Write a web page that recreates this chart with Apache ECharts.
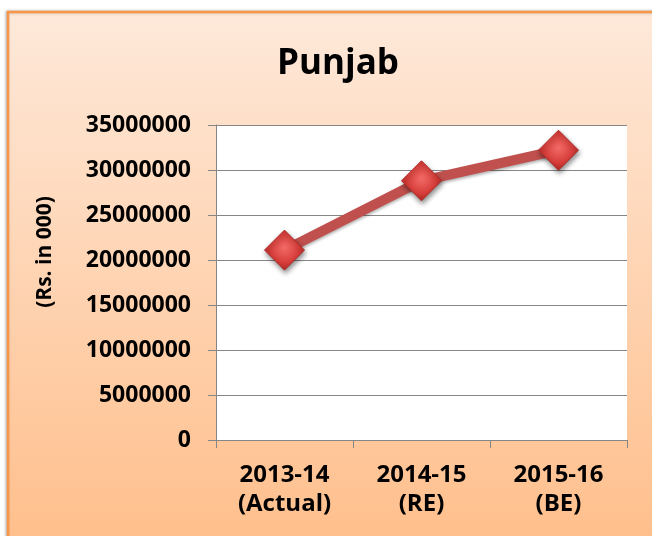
<!DOCTYPE html>
<html>
<head>
<meta charset="utf-8">
<script src="https://cdn.jsdelivr.net/npm/echarts@6/dist/echarts.min.js"></script>
<style>
  html, body { margin: 0; padding: 0; background: #fff; }
  #main { width: 652px; height: 536px; }
</style>
</head>
<body>
<div id="main"></div>
<script>
// chart data
var years = ['2013-14\n(Actual)', '2014-15\n(RE)', '2015-16\n(BE)'];
var budget = [21100000, 28800000, 32200000];
var yTicks = [0, 5000000, 10000000, 15000000, 20000000, 25000000, 30000000, 35000000];

var FONT = '"Open Sans", "Liberation Sans", sans-serif';

var myChart = echarts.init(document.getElementById('main'));

var option = {
    backgroundColor: '#ffffff',
    animation: false,
    graphic: [
        {   // chart area frame with orange gradient
            type: 'rect',
            z: -10,
            shape: { x: 8, y: 12, width: 660, height: 540 },
            style: {
                fill: new echarts.graphic.LinearGradient(0, 0, 0, 1, [
                    { offset: 0, color: '#fee9da' },
                    { offset: 1, color: '#ffbe8a' }
                ]),
                stroke: '#f79646',
                lineWidth: 2.5,
                shadowColor: 'rgba(0,0,0,0.25)',
                shadowBlur: 3,
                shadowOffsetX: -1
            }
        },
        {   // y axis title
            type: 'text',
            x: 45,
            y: 252,
            rotation: Math.PI / 2,
            style: {
                text: '(Rs. in 000)',
                font: 'bold 21px ' + FONT,
                fill: '#000',
                textAlign: 'center',
                textVerticalAlign: 'middle'
            }
        }
    ],
    title: {
        text: 'Punjab',
        left: 333,
        top: 42,
        textAlign: 'center',
        textStyle: {
            fontFamily: FONT,
            fontWeight: 'bold',
            fontSize: 35,
            color: '#000'
        }
    },
    grid: {
        left: 216,
        top: 125,
        right: 25,
        bottom: 96,
        show: true,
        backgroundColor: '#ffffff',
        borderWidth: 0
    },
    xAxis: {
        type: 'category',
        data: years,
        boundaryGap: true,
        axisLine: { show: true, lineStyle: { color: '#868686', width: 1 } },
        axisTick: { show: true, length: 8, alignWithLabel: false, lineStyle: { color: '#868686' } },
        axisLabel: {
            margin: 21,
            fontFamily: FONT,
            fontWeight: 'bold',
            fontSize: 24,
            lineHeight: 29,
            color: '#000'
        },
        splitLine: { show: false }
    },
    yAxis: {
        type: 'value',
        min: yTicks[0],
        max: yTicks[yTicks.length - 1],
        interval: 5000000,
        axisLine: { show: true, lineStyle: { color: '#868686', width: 1 } },
        axisTick: { show: true, length: 8, lineStyle: { color: '#868686' } },
        axisLabel: {
            margin: 25,
            fontFamily: FONT,
            fontWeight: 'bold',
            fontSize: 23,
            color: '#000',
            formatter: function (v) { return String(v); }
        },
        splitLine: { show: true, lineStyle: { color: '#868686', width: 1 } }
    },
    series: [
        {
            type: 'line',
            data: budget,
            symbol: 'diamond',
            symbolSize: 40,
            lineStyle: {
                color: '#c0504d',
                width: 10,
                shadowColor: 'rgba(0,0,0,0.3)',
                shadowBlur: 3,
                shadowOffsetY: 2
            },
            itemStyle: {
                color: new echarts.graphic.RadialGradient(0.5, 0.45, 0.6, [
                    { offset: 0, color: '#f26a66' },
                    { offset: 0.6, color: '#d63d39' },
                    { offset: 1, color: '#a8221f' }
                ]),
                borderColor: '#b02a27',
                borderWidth: 1,
                shadowColor: 'rgba(0,0,0,0.45)',
                shadowBlur: 5,
                shadowOffsetX: 1,
                shadowOffsetY: 3
            },
            emphasis: { disabled: true }
        }
    ]
};

myChart.setOption(option);
</script>
</body>
</html>
